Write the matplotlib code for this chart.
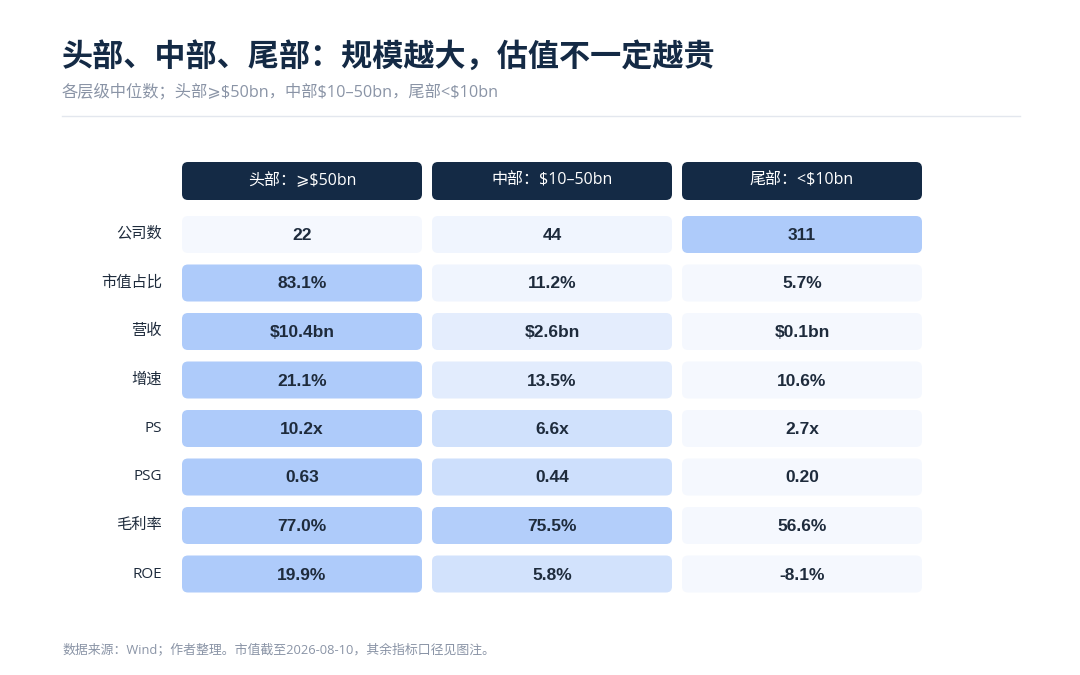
import numpy as np
import matplotlib.pyplot as plt
from matplotlib.patches import FancyBboxPatch
from matplotlib.colors import LinearSegmentedColormap, Normalize

CJK = ['Noto Sans CJK SC', 'DejaVu Sans']
MIX = ['Open Sans', 'Noto Sans CJK SC', 'DejaVu Sans']
NUM = ['Liberation Sans', 'DejaVu Sans']

TITLE = '头部、中部、尾部：规模越大，估值不一定越贵'
SUBTITLE = '各层级中位数；头部⩾$50bn，中部$10–50bn，尾部<$10bn'
FOOTER = '数据来源：Wind；作者整理。市值截至2026-08-10，其余指标口径见图注。'

tiers = ['头部：⩾$50bn', '中部：$10–50bn', '尾部：<$10bn']
metrics = ['公司数', '市值占比', '营收', '增速', 'PS', 'PSG', '毛利率', 'ROE']

# median values per tier (head, mid, tail)
values = [
    [22, 44, 311],
    [83.1, 11.2, 5.7],
    [10.4, 2.6, 0.1],
    [21.1, 13.5, 10.6],
    [10.2, 6.6, 2.7],
    [0.63, 0.44, 0.20],
    [77.0, 75.5, 56.6],
    [19.9, 5.8, -8.1],
]
labels = [
    ['22', '44', '311'],
    ['83.1%', '11.2%', '5.7%'],
    ['$10.4bn', '$2.6bn', '$0.1bn'],
    ['21.1%', '13.5%', '10.6%'],
    ['10.2x', '6.6x', '2.7x'],
    ['0.63', '0.44', '0.20'],
    ['77.0%', '75.5%', '56.6%'],
    ['19.9%', '5.8%', '-8.1%'],
]

NAVY = '#142a45'
TEXT = '#1e2b3c'
GREY = '#8a94a6'
cmap = LinearSegmentedColormap.from_list('cell', ['#f5f8fe', '#aecbfa'])

W, H = 1080, 675
fig = plt.figure(figsize=(W / 100, H / 100), dpi=100)
ax = fig.add_axes([0, 0, 1, 1])
ax.set_xlim(0, W)
ax.set_ylim(H, 0)
ax.axis('off')

# title block
ax.text(62, 57, TITLE, family=CJK, fontsize=22.4, fontweight='bold', color=NAVY, va='center')
ax.text(62, 92, SUBTITLE, family=MIX, fontsize=11.7, color=GREY, va='center')
ax.plot([62, 1020], [116, 116], color='#e3e7ee', lw=1)

# grid geometry
x0, col_w, col_gap = 182, 240, 10
hdr_y, hdr_h = 162, 38
row_y0, row_h, row_pitch = 216, 37, 48.5
rad = 6

def box(x, y, w, h, color):
    ax.add_patch(FancyBboxPatch((x + rad, y + rad), w - 2 * rad, h - 2 * rad,
                                boxstyle=f'round,pad={rad}', fc=color, ec='none'))

for j, t in enumerate(tiers):
    x = x0 + j * (col_w + col_gap)
    box(x, hdr_y, col_w, hdr_h, NAVY)
    ax.text(x + col_w / 2, hdr_y + hdr_h / 2, t, family=MIX, fontsize=11.5,
            color='white', ha='center', va='center')

for i, m in enumerate(metrics):
    y = row_y0 + i * row_pitch
    ax.text(162, y + row_h / 2, m, family=MIX, fontsize=11, color=TEXT,
            ha='right', va='center')
    norm = Normalize(min(values[i]), max(values[i]))
    for j in range(len(tiers)):
        x = x0 + j * (col_w + col_gap)
        box(x, y, col_w, row_h, cmap(norm(values[i][j])))
        ax.text(x + col_w / 2, y + row_h / 2 + 1, labels[i][j], family=NUM,
                fontsize=12.5, fontweight='bold', color=TEXT, ha='center', va='center')

ax.text(62, 650, FOOTER, family=MIX, fontsize=9.3, color=GREY, va='center')

fig.savefig('out.png', dpi=100, facecolor='white')
